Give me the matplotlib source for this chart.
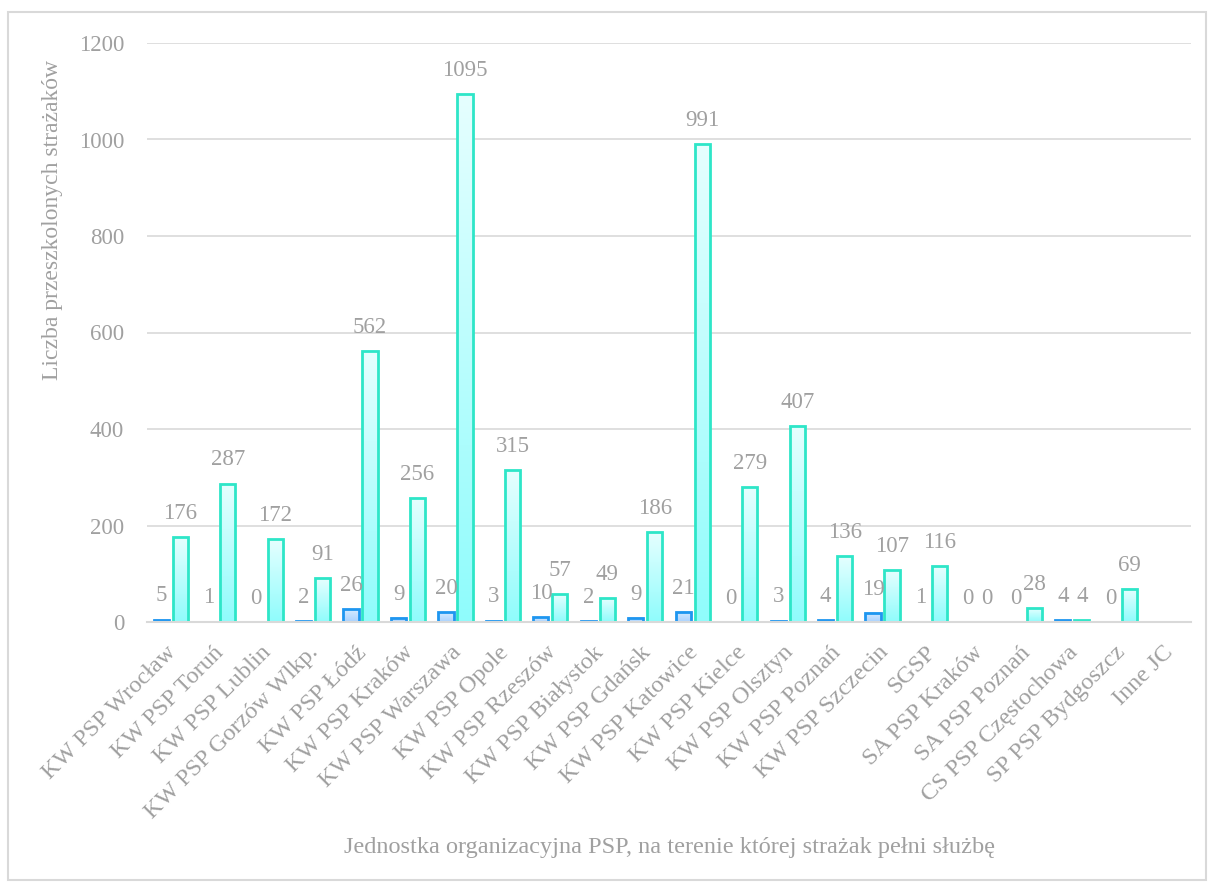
import numpy as np
import matplotlib
matplotlib.use("Agg")
import matplotlib.pyplot as plt
from matplotlib.patches import Rectangle
from matplotlib.colors import LinearSegmentedColormap
from matplotlib.transforms import offset_copy

categories = ["KW PSP Wrocław", "KW PSP Toruń", "KW PSP Lublin", "KW PSP Gorzów Wlkp.",
              "KW PSP Łódź", "KW PSP Kraków", "KW PSP Warszawa", "KW PSP Opole",
              "KW PSP Rzeszów", "KW PSP Białystok", "KW PSP Gdańsk", "KW PSP Katowice",
              "KW PSP Kielce", "KW PSP Olsztyn", "KW PSP Poznań", "KW PSP Szczecin",
              "SGSP", "SA PSP Kraków", "SA PSP Poznań", "CS PSP Częstochowa",
              "SP PSP Bydgoszcz", "Inne JC"]
series_a = [5, 1, 0, 2, 26, 9, 20, 3, 10, 2, 9, 21, 0, 3, 4, 19, 1, 0, 0, 4, 0, None]
series_b = [176, 287, 172, 91, 562, 256, 1095, 315, 57, 49, 186, 991, 279, 407, 136, 107,
            116, 0, 28, 4, 69, None]
y_ticks = [0, 200, 400, 600, 800, 1000, 1200]

W, H = 1208, 884
fig = plt.figure(figsize=(W / 100, H / 100), dpi=100)
plt.rcParams['font.family'] = ['Liberation Serif', 'DejaVu Serif']
gray = '#a0a0a0'
fs = 16.5
fs_cat = 17.5

# outer frame
fig.patches.append(Rectangle((8 / W, 1 - 880 / H), (1206 - 8) / W, (880 - 12) / H,
                             transform=fig.transFigure, fill=False,
                             edgecolor='#d9d9d9', linewidth=1.5))

left, right, top, bottom = 147, 1191, 43, 622
ax = fig.add_axes([left / W, 1 - bottom / H, (right - left) / W, (bottom - top) / H])

n = len(categories)
x = np.arange(n)
bw = 0.32
off = 0.2

cmap_a = LinearSegmentedColormap.from_list('a', ['#a9d2ff', '#d6ebff'])
cmap_b = LinearSegmentedColormap.from_list('b', ['#8ffcfc', '#e6ffff'])
grad = np.linspace(0, 1, 256).reshape(-1, 1)

def draw_series(vals, dx, cmap, edge):
    for i, v in enumerate(vals):
        if v is None:
            continue
        x0 = x[i] + dx - bw / 2
        if v > 0:
            ax.imshow(grad, extent=[x0, x0 + bw, 0, v], origin='lower', aspect='auto',
                      cmap=cmap, zorder=2, interpolation='bilinear')
            ax.add_patch(Rectangle((x0, 0), bw, v, fill=False, edgecolor=edge,
                                   linewidth=2, zorder=3))
        ax.annotate(str(v), (x[i] + dx, v), xytext=(0, 17), textcoords='offset points',
                    ha='center', va='center', fontsize=fs, color=gray, zorder=4)

draw_series(series_a, -off, cmap_a, '#1e96f0')
draw_series(series_b, off, cmap_b, '#2ee6c8')

ax.set_xlim(-0.5, n - 0.5)
ax.set_ylim(0, 1200)
ax.set_yticks(y_ticks)
ax.set_yticklabels([str(t) for t in y_ticks], fontsize=fs, color=gray)
ax.tick_params(axis='y', length=0, pad=16.5)
ax.set_xticks([])
ax.grid(axis='y', color='#d9d9d9', linewidth=1.2, zorder=0)
ax.set_axisbelow(True)
for s in ['top', 'right', 'left']:
    ax.spines[s].set_visible(False)
ax.spines['bottom'].set_color('#d9d9d9')
ax.spines['bottom'].set_linewidth(1.5)
ax.spines['bottom'].set_zorder(5)

# rotated category labels
for i, c in enumerate(categories):
    tr = offset_copy(ax.transData, fig=fig, x=-5, y=-20, units='dots')
    ax.text(x[i], 0, c, transform=tr, rotation=45, rotation_mode='anchor',
            ha='right', va='top', fontsize=fs_cat, color=gray, clip_on=False)

fig.text(53 / W, 1 - 220 / H, "Liczba przeszkolonych strażaków", rotation=90,
         ha='center', va='center', fontsize=17, color=gray)
fig.text(669 / W, 1 - 847 / H, "Jednostka organizacyjna PSP, na terenie której strażak pełni służbę",
         ha='center', va='center', fontsize=fs_cat, color=gray)

fig.savefig('out.png', dpi=100)
